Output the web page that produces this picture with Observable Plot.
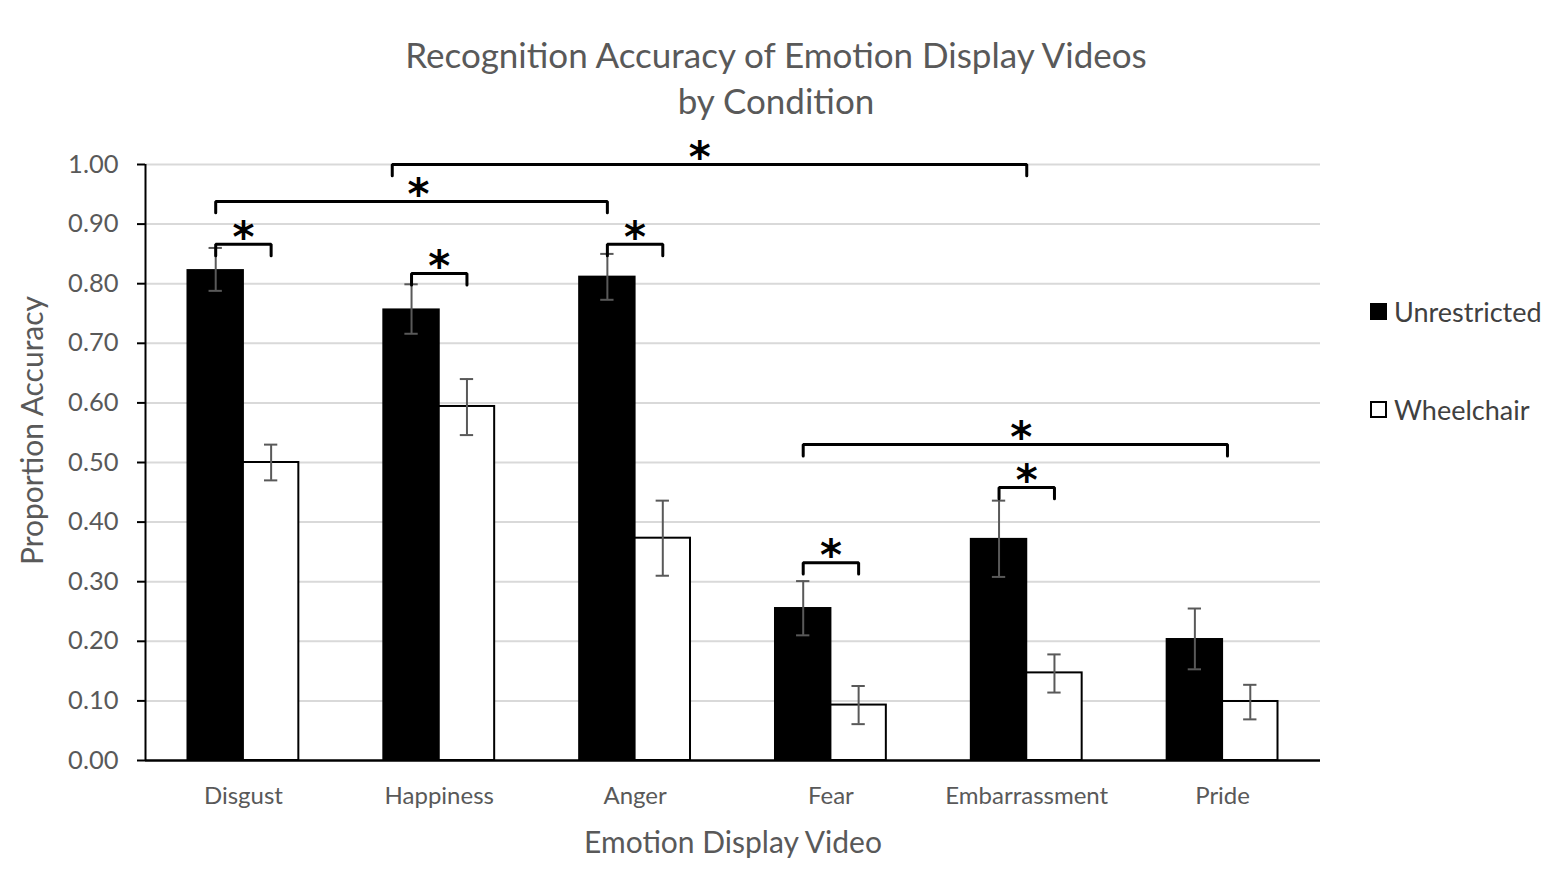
<!DOCTYPE html>
<html>
<head>
<meta charset="utf-8">
<script src="https://cdn.jsdelivr.net/npm/d3@7"></script>
<script src="https://cdn.jsdelivr.net/npm/@observablehq/plot@0.6"></script>
<style>
  body { margin: 0; background: #fff; }
  #wrap { position: relative; width: 1559px; height: 880px; overflow: hidden; background: #fff; font-family: Lato, "Open Sans", sans-serif; }
  #title { height: 125px; box-sizing: border-box; padding-top: 31px; width: 1552px; text-align: center; font-size: 35px; line-height: 46px; color: #595959; }
  .leg { position: absolute; left: 1370px; height: 30px; display: flex; align-items: center; font-size: 27px; color: #404040; }
  .sw { width: 13px; height: 13px; border: 2px solid #000; margin-right: 7px; }
</style>
</head>
<body>
<div id="wrap">
  <div id="title">Recognition Accuracy of Emotion Display Videos<br>by Condition</div>
  <div id="chart"></div>
  <div class="leg" style="top:296px"><div class="sw" style="background:#000"></div>Unrestricted</div>
  <div class="leg" style="top:394px"><div class="sw" style="background:#fff"></div>Wheelchair</div>
</div>
<script>
// ---- data ----
const categories = ["Disgust", "Happiness", "Anger", "Fear", "Embarrassment", "Pride"];
const conditions = ["Unrestricted", "Wheelchair"];
const unrestricted     = [0.822, 0.756, 0.811, 0.255, 0.371, 0.203];
const unrestrictedLow  = [0.788, 0.716, 0.773, 0.210, 0.308, 0.153];
const unrestrictedHigh = [0.860, 0.799, 0.850, 0.301, 0.436, 0.255];
const wheelchair       = [0.500, 0.594, 0.373, 0.093, 0.147, 0.099];
const wheelchairLow    = [0.470, 0.546, 0.310, 0.061, 0.114, 0.069];
const wheelchairHigh   = [0.530, 0.640, 0.436, 0.125, 0.178, 0.127];
const yTicks = [0, 0.1, 0.2, 0.3, 0.4, 0.5, 0.6, 0.7, 0.8, 0.9, 1.0];

// significance brackets (anchors given as category + offset within the category band)
const bracketStart       = ["Happiness", "Disgust", "Disgust", "Happiness", "Anger", "Fear", "Fear", "Embarrassment"];
const bracketStartOffset = [-0.24, -0.1415, -0.1415, -0.1415, -0.1415, -0.1415, -0.1415, -0.1415];
const bracketEnd         = ["Embarrassment", "Anger", "Disgust", "Happiness", "Anger", "Pride", "Fear", "Embarrassment"];
const bracketEndOffset   = [0, -0.1415, 0.1415, 0.1415, 0.1415, 0.025, 0.1415, 0.1415];
const bracketLevel       = [1.000, 0.938, 0.866, 0.817, 0.866, 0.530, 0.332, 0.458];
const starShift          = [-0.05, 0.035, 0, 0, 0, 0.03, 0, 0];

// ---- build tables ----
const half = 0.283;   // bar width in category units
const idx = c => categories.indexOf(c);
const rows = categories.flatMap((c, i) => [
  {cat: c, cond: conditions[0], i, v: unrestricted[i], lo: unrestrictedLow[i], hi: unrestrictedHigh[i], x1: i - half, x2: i},
  {cat: c, cond: conditions[1], i, v: wheelchair[i],   lo: wheelchairLow[i],   hi: wheelchairHigh[i],   x1: i, x2: i + half}
]).map(d => ({...d, xc: (d.x1 + d.x2) / 2}));

const drop = 0.019;
const bracketPts = bracketStart.flatMap((s, k) => {
  const xa = idx(s) + bracketStartOffset[k], xb = idx(bracketEnd[k]) + bracketEndOffset[k], y = bracketLevel[k];
  return [
    {k, x: xa, y: y - drop}, {k, x: xa, y}, {k, x: xb, y}, {k, x: xb, y: y - drop}
  ];
});
const stars = bracketStart.map((s, k) => ({
  x: (idx(s) + bracketStartOffset[k] + idx(bracketEnd[k]) + bracketEndOffset[k]) / 2 + starShift[k],
  y: bracketLevel[k]
}));

const capHalf = 0.034;
const txt = "#595959";

const chart = Plot.plot({
  width: 1559,
  height: 755,
  marginTop: 39,
  marginBottom: 120,
  marginLeft: 145,
  marginRight: 239,
  x: {domain: [-0.5, 5.5], axis: null},
  y: {domain: [0, 1], axis: null},
  style: {fontFamily: "Lato, 'Open Sans', sans-serif", background: "white", overflow: "visible"},
  marks: [
    Plot.gridY(yTicks.filter(t => t > 0), {stroke: "#d9d9d9", strokeOpacity: 1, strokeWidth: 2}),
    Plot.axisY({ticks: yTicks, tickFormat: d => d.toFixed(2), tickSize: 8, tickPadding: 19, fontSize: 25.5, fill: txt, stroke: "#000", strokeWidth: 2}),
    Plot.axisX({ticks: d3.range(categories.length), tickFormat: i => categories[i], tickSize: 0, tickPadding: 26, fontSize: 24, fill: txt, label: null}),
    Plot.rectY(rows, {x1: "x1", x2: "x2", y1: 0, y2: "v", fill: d => d.cond === "Unrestricted" ? "#000" : "#fff", stroke: "#000", strokeWidth: 2}),
    Plot.ruleX(rows, {x: "xc", y1: "lo", y2: "hi", stroke: "#595959", strokeWidth: 2}),
    Plot.ruleY(rows, {y: "lo", x1: d => d.xc - capHalf, x2: d => d.xc + capHalf, stroke: "#595959", strokeWidth: 2}),
    Plot.ruleY(rows, {y: "hi", x1: d => d.xc - capHalf, x2: d => d.xc + capHalf, stroke: "#595959", strokeWidth: 2}),
    Plot.ruleX([-0.5], {stroke: "#000", strokeWidth: 2}),
    Plot.ruleY([0], {stroke: "#000", strokeWidth: 2.5}),
    Plot.line(bracketPts, {x: "x", y: "y", z: "k", stroke: "#000", strokeWidth: 3, strokeLinejoin: "miter", curve: "linear"}),
    Plot.text(stars, {x: "x", y: "y", text: () => "*", fontSize: 42, fontWeight: "bold", fill: "#000", dy: -6, fontFamily: "DejaVu Sans"}),
    Plot.text(["Proportion Accuracy"], {frameAnchor: "left", textAnchor: "middle", rotate: -90, dx: -112, dy: -32, fontSize: 30, fill: txt}),
    Plot.text(["Emotion Display Video"], {frameAnchor: "bottom", dy: 92, fontSize: 30, fill: txt})
  ]
});
document.getElementById("chart").appendChild(chart);
</script>
</body>
</html>
